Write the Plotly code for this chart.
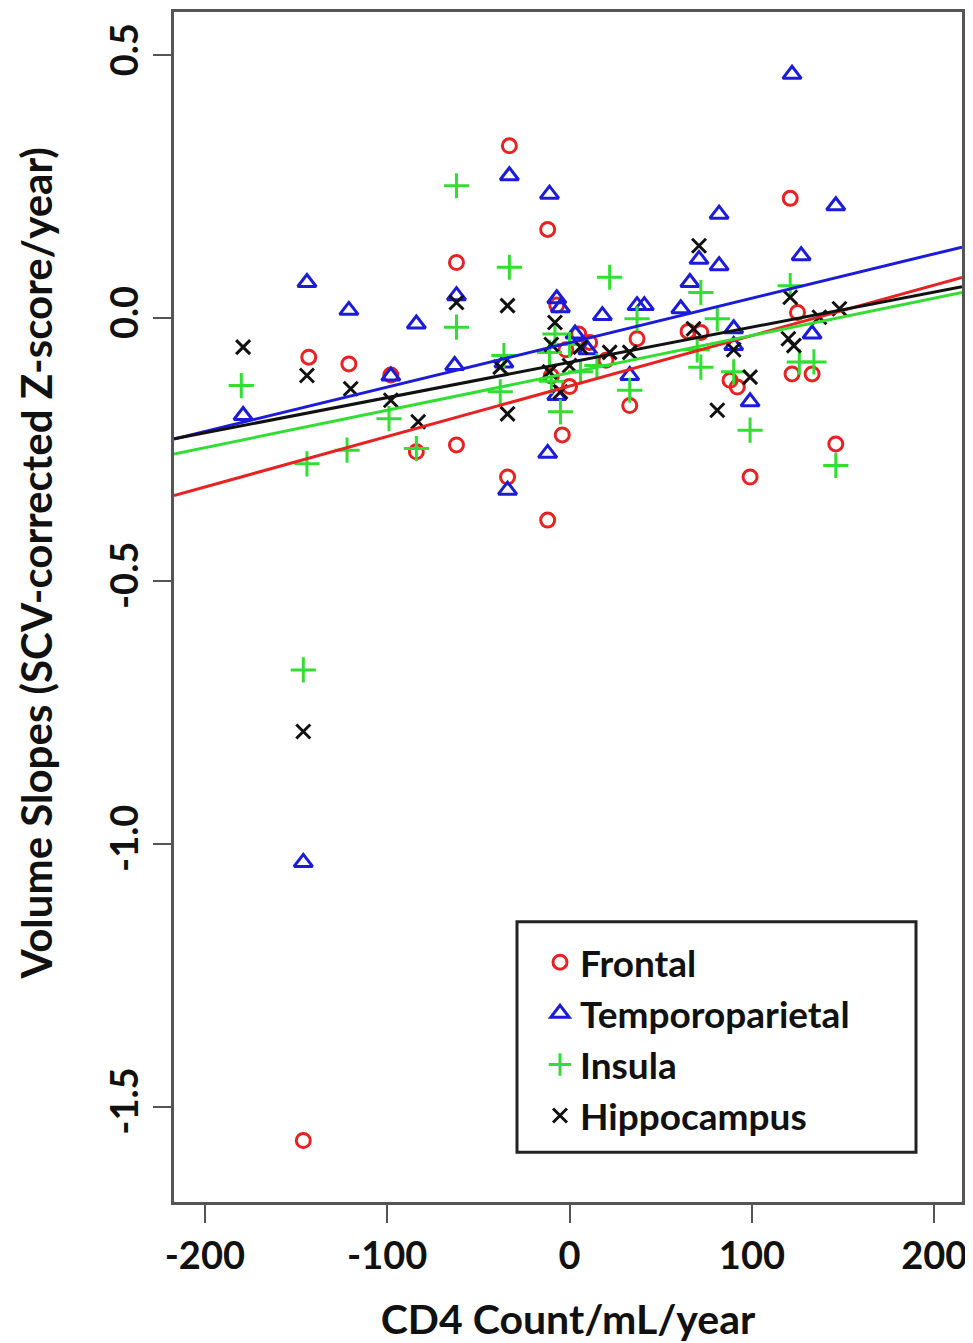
import plotly.graph_objects as go

# ---- data ----
regions = ["Frontal", "Temporoparietal", "Insula", "Hippocampus"]

frontal_x = [-143, -146, -121, -98, -84, -62, -62, -33, -34, -12, -12, -4, -7, -2, 5, 11, 20,
             33, 37, 65, 72, 88, 92, 99, 121, 122, 125, 133, 146, -10, 0]
frontal_y = [-0.074, -1.564, -0.087, -0.108, -0.254, 0.106, -0.241, 0.328, -0.302, 0.169, -0.384,
             -0.222, 0.025, -0.060, -0.030, -0.046, -0.080, -0.166, -0.039, -0.025, -0.027, -0.118,
             -0.131, -0.302, 0.228, -0.106, 0.011, -0.106, -0.239, -0.110, -0.130]

temporo_x = [-179, -144, -146, -121, -98, -84, -62, -63, -36, -33, -34, -11, -12, -7, -5, -7, 3, 10,
             18, 33, 37, 41, 61, 66, 71, 82, 82, 90, 90, 99, 122, 127, 133, 146]
temporo_y = [-0.185, 0.068, -1.035, 0.015, -0.110, -0.011, 0.043, -0.090, -0.085, 0.271, -0.327,
             0.236, -0.257, 0.037, 0.020, -0.147, -0.030, -0.060, 0.005, -0.109, 0.024, 0.024, 0.018,
             0.068, 0.112, 0.100, 0.198, -0.020, -0.052, -0.159, 0.464, 0.119, -0.030, 0.214]

insula_x = [-180, -144, -146, -122, -99, -84, -62, -62, -33, -36, -38, -11, -5, 6, -8, 15, 22, 33,
            37, 70, 72, 72, 81, 90, 99, 121, 126, 134, 146, -10, 0]
insula_y = [-0.128, -0.277, -0.669, -0.251, -0.191, -0.248, 0.252, -0.017, 0.097, -0.071, -0.140,
            -0.065, -0.178, -0.102, -0.030, -0.090, 0.078, -0.137, -0.001, -0.060, 0.049, -0.093,
            -0.001, -0.102, -0.213, 0.062, -0.083, -0.083, -0.280, -0.120, -0.050]

hippo_x = [-179, -144, -146, -120, -98, -83, -62, -34, -34, -38, -8, 6, 22, -11, -5, -10, 33, 68,
           71, 81, 99, 121, 120, 123, 137, 148, 90, 0]
hippo_y = [-0.055, -0.109, -0.786, -0.134, -0.156, -0.197, 0.030, 0.024, -0.182, -0.093, -0.008,
           -0.055, -0.065, -0.102, -0.140, -0.050, -0.065, -0.020, 0.138, -0.175, -0.112, 0.040,
           -0.039, -0.052, 0.002, 0.018, -0.060, -0.090]

# fitted regression lines (intercept, slope)
fit_intercept = [-0.129, -0.0465, -0.104, -0.084]
fit_slope = [0.00096, 0.000845, 0.000711, 0.00067]

x_ticks = [-200, -100, 0, 100, 200]
y_ticks = [0.5, 0.0, -0.5, -1.0, -1.5]
x_range = [-216.9, 215.2]
y_range = [-1.681, 0.5825]

# ---- styling ----
colors = ["#e62222", "#1c1cd8", "#33dd33", "#111111"]
symbols = ["circle-open", "triangle-up-open", "cross-thin-open", "x-thin-open"]
sizes = [14, 16, 18, 14]
FONT = "Lato"

# page body has an 8px margin; size the figure so the plot lands where the reference's does
W, H = 965, 1335
ML, MR, MT, MB = 166, 11, 1, 141
PW, PH = W - ML - MR, H - MT - MB

def px_x(p):  # screen x pixel -> paper
    return (p - 8 - ML) / PW

def px_y(p):  # screen y pixel -> paper
    return 1 - (p - 8 - MT) / PH

xs = [frontal_x, temporo_x, insula_x, hippo_x]
ys = [frontal_y, temporo_y, insula_y, hippo_y]

fig = go.Figure()
for name, x, y, c, s, sz in zip(regions, xs, ys, colors, symbols, sizes):
    fig.add_trace(go.Scatter(
        x=x, y=y, mode="markers", name=name,
        marker=dict(symbol=s, size=sz, color=c, line=dict(color=c, width=3)),
    ))

for a, b, c in zip(fit_intercept, fit_slope, colors):
    lx = list(x_range)
    fig.add_trace(go.Scatter(
        x=lx, y=[a + b * v for v in lx], mode="lines",
        line=dict(color=c, width=3), showlegend=False, hoverinfo="skip",
    ))

axis_common = dict(
    showgrid=False, zeroline=False, showline=True, mirror=True,
    linecolor="#555555", linewidth=3,
    ticks="outside", ticklen=18, tickwidth=2, tickcolor="#555555",
    tickfont=dict(family=FONT, size=38, color="#111111", weight="bold"),
)

fig.update_layout(
    width=W, height=H,
    margin=dict(l=ML, r=MR, t=MT, b=MB),
    paper_bgcolor="white", plot_bgcolor="white",
    font=dict(family=FONT, color="#111111"),
    xaxis=dict(range=x_range, tickvals=x_ticks,
               ticktext=[str(v) for v in x_ticks],
               title=dict(text="CD4 Count/mL/year",
                          font=dict(family=FONT, size=41, weight="bold"), standoff=30),
               **axis_common),
    yaxis=dict(range=y_range, tickvals=y_ticks,
               ticktext=[f"{v:.1f}" for v in y_ticks], tickangle=-90,
               **axis_common),
    legend=dict(x=px_x(540), y=px_y(931), xanchor="left", yanchor="top",
                bgcolor="rgba(0,0,0,0)", borderwidth=0,
                font=dict(family=FONT, size=37, color="#111111", weight="bold"),
                tracegroupgap=0, itemsizing="trace"),
    showlegend=True,
)

# legend frame
fig.add_shape(type="rect", xref="paper", yref="paper",
              x0=px_x(517), x1=px_x(916), y0=px_y(1152), y1=px_y(921),
              line=dict(color="#222222", width=3), fillcolor="rgba(0,0,0,0)")

# y-axis title placed like the reference
fig.add_annotation(text="Volume Slopes (SCV-corrected Z-score/year)",
                   xref="paper", yref="paper",
                   x=px_x(36), y=px_y(562), xanchor="center", yanchor="middle",
                   textangle=-90, showarrow=False,
                   font=dict(family=FONT, size=42, color="#111111", weight="bold"))

fig.write_html("out.html")
